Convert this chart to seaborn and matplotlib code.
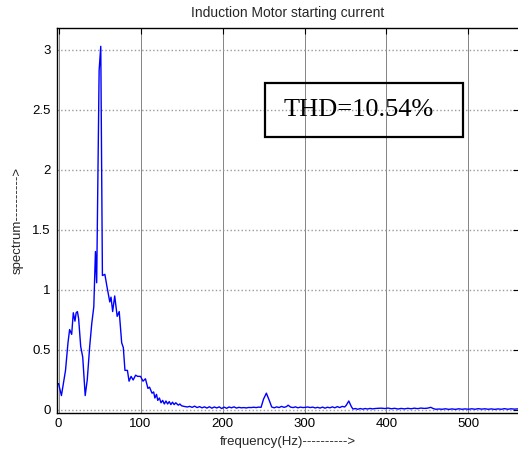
import matplotlib
matplotlib.use("Agg")
import matplotlib.pyplot as plt
import seaborn as sns
import pandas as pd
from matplotlib.patches import Rectangle

# ---- data ----
freq = [
    0, 3.5, 8.5, 11.5, 13.5, 16, 18, 20, 21.5, 23, 24.5, 27, 29.5, 32.5, 35,
    38, 40.5, 43, 45, 46.5, 49.5, 51.5, 53.5, 56.5, 59, 62.5, 64, 66, 68.5,
    71.5, 74, 77, 79, 81, 84, 86, 88.5, 91, 94, 96.5, 100, 103, 106, 109, 111,
    114, 116, 117.5, 119.5, 121, 123, 125, 127, 129, 131, 133, 135, 137, 139,
    141, 143, 146, 148, 150, 153, 157,
    160, 163, 166, 169, 172, 175, 178, 181, 184, 187, 190, 193, 196, 199, 202,
    205, 208, 211, 214, 217, 220, 223, 226, 229, 232, 235, 238, 241, 244,
    247, 250, 253.5, 257, 260, 263, 266, 269, 272, 275, 278, 280, 283, 286,
    289, 292, 295, 298, 301, 304, 307, 310, 313, 316, 319, 322, 325, 328, 331,
    334, 337, 340, 343, 346, 349, 351, 354, 357, 359, 362, 365, 368, 371, 374,
    377, 380, 383, 386, 390, 394, 398, 402, 406, 410, 414, 418, 422, 426, 430,
    434, 438, 442, 446, 450, 454, 457, 460, 464, 468, 472, 476, 480, 484, 488,
    492, 496, 500, 504, 508, 512, 516, 520, 524, 528, 532, 536, 540, 544, 548,
    552, 556, 560, 564,
]
spectrum = [
    0.22, 0.12, 0.33, 0.56, 0.67, 0.63, 0.81, 0.74, 0.81, 0.82, 0.76, 0.53,
    0.44, 0.12, 0.25, 0.53, 0.72, 0.86, 1.32, 1.06, 2.83, 3.03, 1.12, 1.13,
    1.03, 0.90, 0.94, 0.82, 0.95, 0.78, 0.82, 0.56, 0.52, 0.33, 0.33, 0.24,
    0.28, 0.25, 0.29, 0.28, 0.28, 0.24, 0.26, 0.18, 0.19, 0.14, 0.15, 0.10,
    0.13, 0.08, 0.10, 0.06, 0.08, 0.05, 0.075, 0.05, 0.07, 0.045, 0.065,
    0.045, 0.06, 0.04, 0.05, 0.035, 0.03, 0.025,
    0.030, 0.022, 0.032, 0.020, 0.028, 0.018, 0.026, 0.016, 0.027, 0.015,
    0.025, 0.017, 0.026, 0.012, 0.024, 0.014, 0.025, 0.018, 0.026, 0.016,
    0.022, 0.018, 0.020, 0.017, 0.021, 0.020, 0.023, 0.020, 0.024,
    0.022, 0.09, 0.14, 0.08, 0.025, 0.018, 0.026, 0.020, 0.030, 0.022, 0.028,
    0.040, 0.024, 0.020, 0.026, 0.018, 0.024, 0.020, 0.022, 0.025, 0.020,
    0.024, 0.017, 0.022, 0.016, 0.024, 0.015, 0.023, 0.018, 0.026, 0.018,
    0.028, 0.020, 0.030, 0.025, 0.040, 0.075, 0.030, 0.008, 0.012, 0.006,
    0.012, 0.007, 0.012, 0.008, 0.013, 0.009, 0.012, 0.014, 0.015, 0.012,
    0.016, 0.010, 0.014, 0.008, 0.013, 0.009, 0.014, 0.010, 0.015, 0.011,
    0.016, 0.013, 0.015, 0.022, 0.012, 0.006, 0.008, 0.006, 0.010, 0.005,
    0.009, 0.005, 0.010, 0.006, 0.009, 0.006, 0.010, 0.006, 0.011, 0.007,
    0.010, 0.006, 0.009, 0.005, 0.009, 0.006, 0.011, 0.006, 0.010, 0.007,
    0.009, 0.006,
]
x_ticks = [0, 100, 200, 300, 400, 500]
x_tick_labels = ["0", "100", "200", "300", "400", "500"]
y_ticks = [0, 0.5, 1, 1.5, 2, 2.5, 3]
y_tick_labels = ["0", "0.5", "1", "1.5", "2", "2.5", "3"]
title_text = "Induction Motor starting current"
x_label = "frequency(Hz)---------->"
y_label = "spectrum---------->"
thd_text = "THD=10.54%"

df = pd.DataFrame({"freq": freq, "spectrum": spectrum})

sns.set_theme(style="white")
plt.rcParams["font.family"] = ["Liberation Sans", "DejaVu Sans"]

fig = plt.figure(figsize=(5.18, 4.61), dpi=100)
ax = fig.add_axes([56.5 / 518, 48.5 / 461, 462.8 / 518, 384.2 / 461])

sns.lineplot(data=df, x="freq", y="spectrum", color="#0000ff", lw=1.0,
             estimator=None, sort=False, ax=ax)

ax.set_xlim(-2.5, 562)
ax.set_ylim(-0.021, 3.18)
ax.set_xticks(x_ticks, labels=x_tick_labels)
ax.set_yticks(y_ticks, labels=y_tick_labels)

ax.xaxis.grid(True, color="#707070", linestyle="-", linewidth=0.6)
ax.yaxis.grid(True, color="#9a9a9a", linestyle=":", linewidth=1.0)
ax.set_axisbelow(True)

ax.tick_params(direction="in", length=4, width=0.8, top=True, right=True,
               labelsize=9.5, colors="black", pad=4)
for s in ax.spines.values():
    s.set_visible(True)
    s.set_color("black")
    s.set_linewidth(1.0)

ax.set_title(title_text, fontsize=10, pad=8)
ax.set_xlabel(x_label, fontsize=9.5, labelpad=4)
ax.set_ylabel(y_label, fontsize=9.5, labelpad=6)

ax.add_patch(Rectangle((251.7, 2.273), 242.0, 0.455, fill=False,
                       edgecolor="black", linewidth=1.6, zorder=5))
ax.text(366.4, 2.5, thd_text, ha="center", va="center", fontsize=19,
        family=["Liberation Serif", "DejaVu Serif"], color="black", zorder=6)

fig.savefig("out.png", dpi=100)
